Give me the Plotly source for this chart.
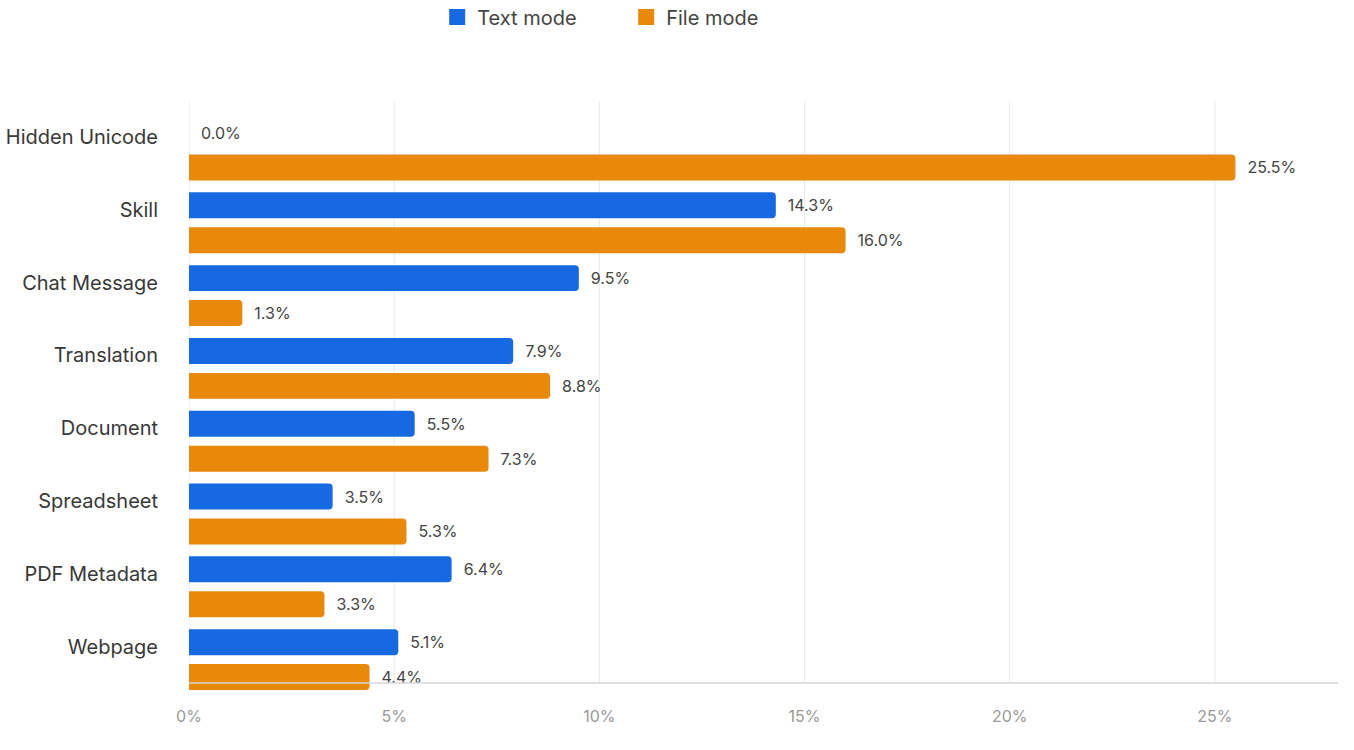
import plotly.graph_objects as go

categories = [
    "Hidden Unicode",
    "Skill",
    "Chat Message",
    "Translation",
    "Document",
    "Spreadsheet",
    "PDF Metadata",
    "Webpage",
]
text_mode = [0.0, 14.3, 9.5, 7.9, 5.5, 3.5, 6.4, 5.1]
file_mode = [25.5, 16.0, 1.3, 8.8, 7.3, 5.3, 3.3, 4.4]
x_ticks = [0, 5, 10, 15, 20, 25]

BLUE = "#1769e1"
ORANGE = "#e8890c"
FONT = "Inter"

# plot area is 101..691 px high, axis line sits 8 px above the bottom edge
AXIS_Y = 8 / 590


def bar_trace(name, values, color):
    return go.Bar(
        name=name,
        y=categories,
        x=values,
        orientation="h",
        marker=dict(color=color, line=dict(width=0)),
        text=[f"\u00a0\u00a0{v:.1f}%" for v in values],
        textposition="outside",
        textfont=dict(size=16, color="#444444", family=FONT),
        cliponaxis=False,
        showlegend=False,
        hoverinfo="skip",
    )


fig = go.Figure()
fig.add_trace(bar_trace("Text mode", text_mode, BLUE))
fig.add_trace(bar_trace("File mode", file_mode, ORANGE))

# legend-only swatches
for name, color in [("Text mode", BLUE), ("File mode", ORANGE)]:
    fig.add_trace(
        go.Scatter(
            x=[None],
            y=[None],
            mode="markers",
            name=name,
            marker=dict(symbol="square", size=18, color=color),
        )
    )

for t in x_ticks:
    fig.add_shape(
        type="line",
        xref="x",
        yref="paper",
        x0=t,
        x1=t,
        y0=AXIS_Y,
        y1=1,
        line=dict(color="#e8e8e8", width=1),
        layer="below",
    )
fig.add_shape(
    type="line",
    xref="paper",
    yref="paper",
    x0=0,
    x1=1,
    y0=AXIS_Y,
    y1=AXIS_Y,
    line=dict(color="#d6d6d6", width=1.5),
    layer="above",
)

fig.update_layout(
    width=1354,
    height=750,
    margin=dict(l=189, r=16, t=101, b=59, autoexpand=False),
    paper_bgcolor="white",
    plot_bgcolor="white",
    font=dict(family=FONT, color="#333333"),
    barmode="group",
    bargap=0.04,
    bargroupgap=0.257,
    barcornerradius=4,
    xaxis=dict(
        range=[0, 28],
        tickvals=x_ticks,
        ticktext=[f"{t}%" for t in x_ticks],
        showgrid=False,
        zeroline=False,
        showline=False,
        ticks="",
        ticklabelstandoff=14,
        tickfont=dict(size=16, color="#999999"),
    ),
    yaxis=dict(
        categoryorder="array",
        categoryarray=categories,
        range=[7.431, -0.673],
        showgrid=False,
        zeroline=False,
        showline=False,
        ticks="",
        ticklabelstandoff=30,
        ticklabelshift=13,
        tickfont=dict(size=20, color="#383838"),
    ),
    legend=dict(
        orientation="h",
        x=0.216,
        xanchor="left",
        y=1.1424,
        yanchor="middle",
        font=dict(size=20, color="#444444"),
        itemsizing="trace",
        entrywidth=144,
        entrywidthmode="pixels",
    ),
)

fig.write_html(
    "out.html",
    config={"displayModeBar": False},
    post_script="document.body.style.margin='0';",
)
